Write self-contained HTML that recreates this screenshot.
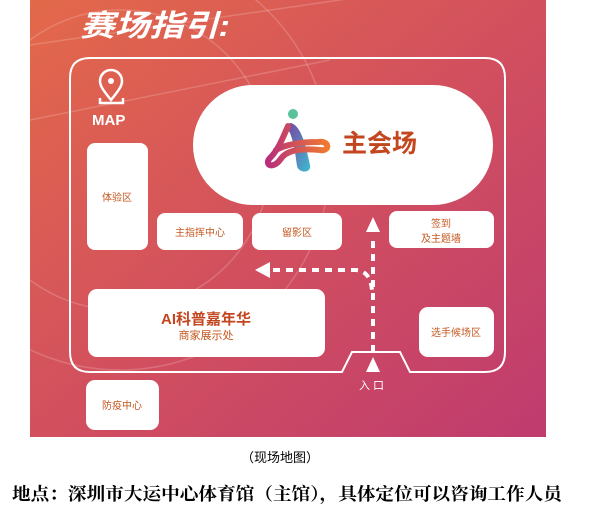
<!DOCTYPE html>
<html><head><meta charset="utf-8"><style>
html,body{margin:0;padding:0;background:#fff;width:607px;height:516px;overflow:hidden}
svg{display:block}
</style></head><body>
<svg width="607" height="516" viewBox="0 0 607 516" xmlns="http://www.w3.org/2000/svg" font-family="Liberation Sans, Noto Sans CJK SC, sans-serif">
<defs>
<linearGradient id="bg" x1="0" y1="0" x2="1" y2="1">
<stop offset="0" stop-color="#e3694a"/>
<stop offset="0.5" stop-color="#d2505e"/>
<stop offset="1" stop-color="#bf3b6f"/>
</linearGradient>
<linearGradient id="lg1" x1="0" y1="0" x2="1" y2="1">
<stop offset="0" stop-color="#7b3fa0"/><stop offset="1" stop-color="#3cbcd0"/>
</linearGradient>
<linearGradient id="lg2" x1="0" y1="0" x2="1" y2="0">
<stop offset="0" stop-color="#b8307a"/><stop offset="1" stop-color="#f07a30"/>
</linearGradient>
</defs>
<rect x="30" y="0" width="516" height="437" fill="url(#bg)"/>
<g stroke="#ffffff" stroke-opacity="0.18" fill="none" stroke-width="1.5">
<circle cx="120" cy="160" r="210"/>
<circle cx="120" cy="160" r="150"/>
<line x1="30" y1="45" x2="546" y2="-30"/>
<line x1="30" y1="120" x2="330" y2="60"/>
</g>
<text x="80" y="36" font-size="30" font-weight="bold" font-style="italic" fill="#fff" textLength="150" lengthAdjust="spacingAndGlyphs">赛场指引:</text>
<path d="M90 58 H485 Q505 58 505 78 V352 Q505 372 485 372 H410 L400 352 H352 L342 372 H90 Q70 372 70 352 V78 Q70 58 90 58 Z" fill="none" stroke="#fff" stroke-width="2"/>
<!-- map icon -->
<path d="M111 100 C103 90 100 86 100 81 A11 11 0 0 1 122 81 C122 86 119 90 111 100 Z" fill="none" stroke="#fff" stroke-width="2.5"/>
<circle cx="111" cy="81" r="3" fill="#fff"/>
<path d="M100 98 V103 H123 V98" fill="none" stroke="#fff" stroke-width="2.5"/>
<text x="92" y="125" font-size="15" font-weight="bold" fill="#fff">MAP</text>
<!-- boxes -->
<g fill="#fff">
<rect x="193" y="85" width="300" height="120" rx="60"/>
<rect x="87" y="143" width="61" height="107" rx="8"/>
<rect x="157" y="213" width="86" height="37" rx="8"/>
<rect x="252" y="213" width="90" height="37" rx="8"/>
<rect x="389" y="211" width="105" height="37" rx="8"/>
<rect x="88" y="289" width="237" height="68" rx="9"/>
<rect x="419" y="307" width="75" height="50" rx="9"/>
<rect x="86" y="380" width="73" height="50" rx="9"/>
</g>
<!-- logo -->
<circle cx="293" cy="114" r="5" fill="#59c29a"/>
<path d="M290 123 C302 124 307 152 310 165 C312 173 299 174 297 166 C295 150 292 132 286 127 Z" fill="url(#lg1)"/>
<path d="M288 126 C282 140 278 150 270 158 C264 164 272 170 280 160 C286 150 300 148 320 150 C330 152 330 140 318 142 C300 142 285 145 276 150" fill="none" stroke="url(#lg2)" stroke-width="6" stroke-linecap="round"/>
<text x="342" y="152" font-size="25" font-weight="bold" fill="#c4461f">主会场</text>
<g fill="#c4571f" font-size="10" text-anchor="middle">
<text x="117" y="201">体验区</text>
<text x="200" y="236">主指挥中心</text>
<text x="297" y="236">留影区</text>
<text x="441" y="227">签到</text>
<text x="441" y="242">及主题墙</text>
<text x="456" y="336">选手候场区</text>
<text x="122" y="409">防疫中心</text>
<text x="206" y="324" font-size="15" font-weight="bold" fill="#c4461f">AI科普嘉年华</text>
<text x="206" y="339" font-size="11">商家展示处</text>
</g>
<!-- arrows -->
<g stroke="#fff" stroke-width="4" fill="none" stroke-dasharray="7,6">
<line x1="373" y1="352" x2="373" y2="236"/>
<path d="M273 270 H355 Q370 270 372 290"/>
</g>
<g fill="#fff">
<polygon points="373,217 366,232 380,232"/>
<polygon points="373,357 366,372 380,372"/>
<polygon points="255,270 270,262 270,278"/>
</g>
<text x="373" y="389" font-size="11" fill="#fff" text-anchor="middle" letter-spacing="3">入口</text>
<text x="280" y="462" font-size="13" fill="#000" text-anchor="middle">（现场地图）</text>
<text x="12" y="500" font-size="17.6" font-weight="bold" fill="#000" font-family="Liberation Serif, Noto Serif CJK SC, serif" textLength="550" lengthAdjust="spacingAndGlyphs">地点：深圳市大运中心体育馆（主馆），具体定位可以咨询工作人员</text>
</svg>
</body></html>
